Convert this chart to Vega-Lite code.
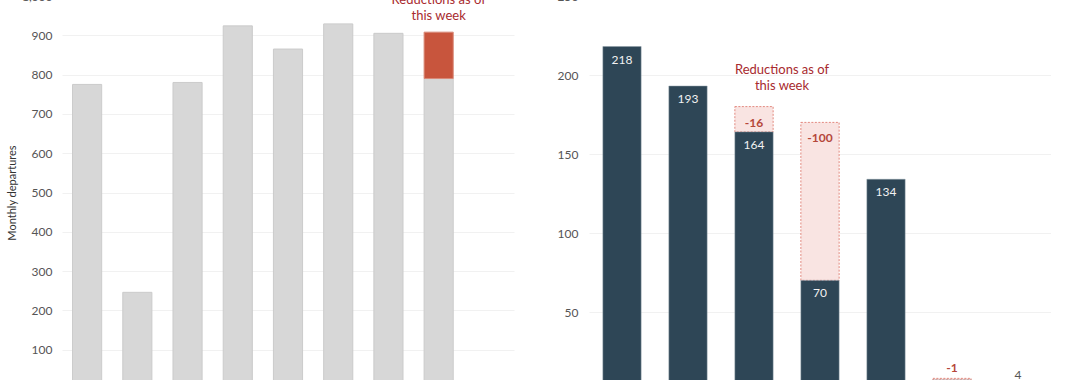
{
  "$schema": "https://vega.github.io/schema/vega-lite/v6.json",
  "background": "white",
  "padding": {"left": 6, "top": -10, "right": 0, "bottom": 0},
  "spacing": 75,
  "bounds": "flush",
  "config": {
    "font": "Lato",
    "view": {"stroke": null},
    "axis": {"labelFont": "Lato", "titleFont": "Lato", "labelFontSize": 12, "labelColor": "#555555", "domain": false, "ticks": false, "gridColor": "#f1f1f1", "gridWidth": 1, "labelOverlap": false}
  },
  "datasets": {
    "departures": [
      {"month": "Jan", "departures": 775, "before": null},
      {"month": "Feb", "departures": 246, "before": null},
      {"month": "Mar", "departures": 780, "before": null},
      {"month": "Apr", "departures": 924, "before": null},
      {"month": "May", "departures": 865, "before": null},
      {"month": "Jun", "departures": 929, "before": null},
      {"month": "Jul", "departures": 905, "before": null},
      {"month": "Aug", "departures": 790, "before": 908}
    ],
    "routes": [
      {"route": "A", "current": 218, "prior": null, "change": null},
      {"route": "B", "current": 193, "prior": null, "change": null},
      {"route": "C", "current": 164, "prior": 180, "change": -16},
      {"route": "D", "current": 70, "prior": 170, "change": -100},
      {"route": "E", "current": 134, "prior": null, "change": null},
      {"route": "F", "current": 7, "prior": 8, "change": -1},
      {"route": "G", "current": 4, "prior": null, "change": null}
    ]
  },
  "hconcat": [
    {
      "width": 452,
      "height": 393,
      "data": {"name": "departures"},
      "encoding": {
        "x": {"field": "month", "type": "nominal", "sort": null,
          "scale": {"domain": ["Jan", "Feb", "Mar", "Apr", "May", "Jun", "Jul", "Aug", "Sep"], "paddingInner": 0.42, "paddingOuter": 0.21},
          "axis": {"title": null, "grid": false, "labelAngle": 0}},
        "y": {"field": "departures", "type": "quantitative",
          "scale": {"domain": [0, 1000], "nice": false},
          "axis": {"values": [0, 100, 200, 300, 400, 500, 600, 700, 800, 900, 1000], "tickCount": 20, "format": ",.0f", "title": "Monthly departures", "titleFontSize": 11, "titleFontWeight": "normal", "titleColor": "#333333", "labelPadding": 10, "titlePadding": 4}}
      },
      "layer": [
        {
          "mark": {"type": "bar", "fill": "#d7d7d7", "stroke": "#cbcbcb", "strokeWidth": 1}
        },
        {
          "transform": [{"filter": "datum.before != null"}],
          "mark": {"type": "bar", "fill": "#c8553d", "stroke": "#d98a78", "strokeWidth": 1},
          "encoding": {
            "y2": {"field": "before"}
          }
        },
        {
          "transform": [{"filter": "datum.before != null"}],
          "mark": {"type": "text", "font": "Lato", "fontSize": 13, "fontWeight": "normal", "color": "#a82a2e", "align": "center", "baseline": "alphabetic", "lineHeight": 16, "dy": -28},
          "encoding": {
            "y": {"field": "before", "type": "quantitative"},
            "text": {"value": ["Reductions as of", "this week"]}
          }
        }
      ]
    },
    {
      "width": 462,
      "height": 395,
      "data": {"name": "routes"},
      "encoding": {
        "x": {"field": "route", "type": "nominal", "sort": null,
          "scale": {"domain": ["A", "B", "C", "D", "E", "F", "G"], "paddingInner": 0.42, "paddingOuter": 0.21},
          "axis": {"title": null, "grid": false, "labelAngle": 0}},
        "y": {"field": "current", "type": "quantitative",
          "scale": {"domain": [0, 250], "nice": false},
          "axis": {"values": [0, 50, 100, 150, 200, 250], "tickCount": 20, "title": null, "labelPadding": 11}}
      },
      "layer": [
        {
          "transform": [{"filter": "datum.prior != null"}],
          "mark": {"type": "bar", "fill": "#f9e4e2", "stroke": "#e2897f", "strokeWidth": 1, "strokeDash": [2, 1.5]},
          "encoding": {
            "y2": {"field": "prior"}
          }
        },
        {
          "mark": {"type": "bar", "fill": "#2e4656", "stroke": "#8a9aa5", "strokeWidth": 0.5}
        },
        {
          "transform": [{"filter": "datum.current >= 20"}],
          "mark": {"type": "text", "fontSize": 12, "color": "#f2f2f2", "baseline": "middle", "dy": 13},
          "encoding": {"text": {"field": "current"}}
        },
        {
          "transform": [{"filter": "datum.current < 20 && datum.prior == null"}],
          "mark": {"type": "text", "fontSize": 12, "color": "#555555", "baseline": "bottom", "dy": -3},
          "encoding": {"text": {"field": "current"}}
        },
        {
          "transform": [{"filter": "datum.prior != null && datum.prior - datum.current >= 5"}],
          "mark": {"type": "text", "fontSize": 12, "fontWeight": "bold", "color": "#b5473a", "baseline": "middle", "dy": 16},
          "encoding": {"y": {"field": "prior", "type": "quantitative"}, "text": {"field": "change"}}
        },
        {
          "transform": [{"filter": "datum.prior != null && datum.prior - datum.current < 5"}],
          "mark": {"type": "text", "fontSize": 12, "fontWeight": "bold", "color": "#b5473a", "baseline": "middle", "dy": -10},
          "encoding": {"y": {"field": "prior", "type": "quantitative"}, "text": {"field": "change"}}
        },
        {
          "transform": [{"filter": "datum.change == -16"}],
          "mark": {"type": "text", "font": "Lato", "fontSize": 13, "fontWeight": "normal", "color": "#a82a2e", "align": "center", "baseline": "alphabetic", "lineHeight": 16, "dx": 28, "dy": -33},
          "encoding": {
            "y": {"field": "prior", "type": "quantitative"},
            "text": {"value": ["Reductions as of", "this week"]}
          }
        }
      ]
    }
  ]
}
